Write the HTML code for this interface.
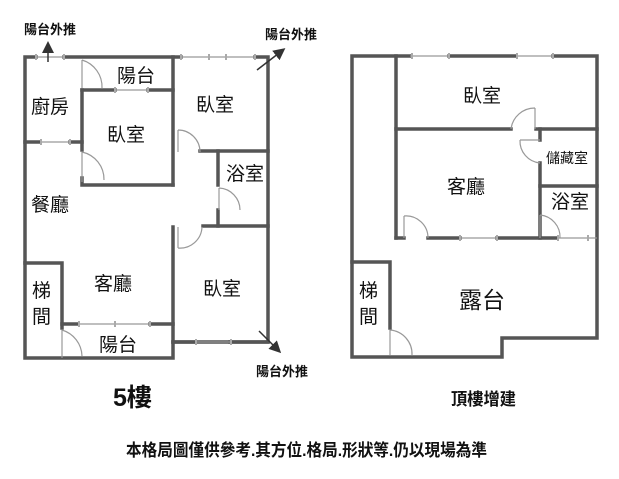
<!DOCTYPE html>
<html><head><meta charset="utf-8"><style>
html,body{margin:0;padding:0;background:#fff;}
svg{display:block;}
text{font-family:"Liberation Sans","Noto Sans CJK TC",sans-serif;fill:#111;}
</style></head><body>
<svg width="619" height="479" viewBox="0 0 619 479" xmlns="http://www.w3.org/2000/svg">
<defs>
<marker id="ah" markerWidth="8" markerHeight="8" refX="6" refY="4" orient="auto"><path d="M0,0 L8,4 L0,8 Z" fill="#333"/></marker>
</defs>
<g stroke="#555" stroke-width="3.5" fill="none" stroke-linecap="square">
<polyline points="36,57 25,57 25,358 173,358 173,342 268,342 268,57 255,57"/>
<line x1="64" y1="57" x2="181" y2="57"/>
<line x1="82" y1="90" x2="115" y2="90"/><line x1="148" y1="90" x2="173" y2="90"/>
<polyline points="82,90 82,150"/><polyline points="82,178 82,185 173,185"/>
<line x1="173" y1="57" x2="173" y2="185"/>
<line x1="25" y1="142" x2="40" y2="142"/><line x1="70" y1="142" x2="82" y2="142"/>
<line x1="200" y1="151" x2="268" y2="151"/>
<line x1="218" y1="151" x2="218" y2="185"/><line x1="218" y1="210" x2="218" y2="226"/>
<line x1="203" y1="226" x2="268" y2="226"/>
<line x1="173" y1="227" x2="173" y2="342"/>
<polyline points="25,263 62,263 62,328"/>
<line x1="62" y1="324" x2="78" y2="324"/><line x1="150" y1="324" x2="173" y2="324"/>
<line x1="173" y1="342" x2="195" y2="342"/><line x1="230" y1="342" x2="268" y2="342"/>
<polyline points="410,56 352,56 352,357 502,357 502,338 597,338 597,56 553,56"/>
<line x1="449" y1="56" x2="516" y2="56"/>
<line x1="396" y1="56" x2="396" y2="238"/>
<line x1="396" y1="129" x2="511" y2="129"/><line x1="536" y1="129" x2="597" y2="129"/>
<line x1="540" y1="129" x2="540" y2="140"/><line x1="540" y1="163" x2="540" y2="238"/>
<line x1="540" y1="186" x2="597" y2="186"/>
<line x1="396" y1="238" x2="404" y2="238"/><line x1="428" y1="238" x2="460" y2="238"/><line x1="497" y1="238" x2="557" y2="238"/>
<polyline points="352,262 390,262 390,328"/>
</g>
<g stroke="#999" stroke-width="1.2" fill="none">
<line x1="36" y1="57" x2="64" y2="57"/><line x1="181" y1="57" x2="255" y2="57"/>
<line x1="115" y1="90" x2="148" y2="90"/><line x1="40" y1="142" x2="70" y2="142"/>
<line x1="78" y1="324" x2="150" y2="324"/><line x1="195" y1="342" x2="230" y2="342"/>
<line x1="410" y1="56" x2="449" y2="56"/><line x1="516" y1="56" x2="553" y2="56"/>
<line x1="460" y1="238" x2="497" y2="238"/><line x1="557" y1="238" x2="597" y2="238"/>
<path d="M82,60 L82,88 M82,60 A28,28 0 0 1 102,88"/>
<path d="M82,152 L82,182 M82,152 A28,28 0 0 1 104,180"/>
<path d="M178,130 L178,152 M178,130 A22,22 0 0 1 200,152"/>
<path d="M219,188 L219,210 M219,188 A22,22 0 0 1 240,210"/>
<path d="M178,227 L178,248 M178,248 A22,22 0 0 0 202,227"/>
<path d="M62,330 L62,358 M62,330 A28,28 0 0 1 82,356"/>
<path d="M535,108 L535,129 M511,129 A24,24 0 0 1 535,108"/>
<path d="M540,140 L520,140 M520,140 A22,22 0 0 0 540,163"/>
<path d="M540,215 L540,238 M540,215 A22,22 0 0 1 560,238"/>
<path d="M404,216 L404,238 M404,216 A22,22 0 0 1 428,238"/>
<path d="M390,330 L390,355 M390,330 A24,24 0 0 1 412,355"/>
</g>
<g fill="#aaa">
<rect x="35" y="54" width="2" height="6"/><rect x="63" y="54" width="2" height="6"/>
<rect x="180" y="54" width="2" height="6"/><rect x="208" y="54" width="2" height="6"/><rect x="225" y="54" width="2" height="6"/><rect x="254" y="54" width="2" height="6"/>
<rect x="114" y="87" width="2" height="6"/><rect x="147" y="87" width="2" height="6"/>
<rect x="40" y="139" width="2" height="6"/><rect x="69" y="139" width="2" height="6"/>
<rect x="78" y="321" width="2" height="6"/><rect x="114" y="321" width="2" height="6"/><rect x="149" y="321" width="2" height="6"/>
<rect x="195" y="339" width="2" height="6"/><rect x="230" y="339" width="2" height="6"/>
<rect x="411" y="53" width="2" height="6"/><rect x="448" y="53" width="2" height="6"/><rect x="516" y="53" width="2" height="6"/><rect x="552" y="53" width="2" height="6"/>
<rect x="459" y="235" width="2" height="6"/><rect x="496" y="235" width="2" height="6"/><rect x="557" y="235" width="2" height="6"/><rect x="587" y="235" width="2" height="6"/>
</g>
<g stroke="#333" stroke-width="1.5" fill="none">
<line x1="48" y1="62" x2="48" y2="44" marker-end="url(#ah)"/>
<line x1="257" y1="70" x2="283" y2="50" marker-end="url(#ah)"/>
<line x1="259" y1="331" x2="279" y2="351" marker-end="url(#ah)"/>
</g>
<g font-size="13" font-weight="bold">
<text x="24" y="34">陽台外推</text>
<text x="265" y="39">陽台外推</text>
<text x="256" y="376">陽台外推</text>
</g>
<g font-size="19">
<text x="117" y="82">陽台</text>
<text x="31" y="113">廚房</text>
<text x="107" y="141">臥室</text>
<text x="196" y="111">臥室</text>
<text x="226" y="180">浴室</text>
<text x="31" y="211">餐廳</text>
<text x="94" y="290">客廳</text>
<text x="203" y="295">臥室</text>
<text x="32" y="297">梯</text>
<text x="32" y="323">間</text>
<text x="99" y="351">陽台</text>
<text x="463" y="102">臥室</text>
<text x="447" y="193">客廳</text>
<text x="359" y="297">梯</text>
<text x="359" y="323">間</text>
<text x="551" y="208">浴室</text>
<text x="459" y="308" font-size="23">露台</text>
</g>
<text x="546" y="163" font-size="14">儲藏室</text>
<text x="113" y="406" font-size="25" font-weight="bold">5樓</text>
<text x="451" y="405" font-size="17" font-weight="bold" textLength="65" lengthAdjust="spacingAndGlyphs">頂樓增建</text>
<text x="126" y="456" font-size="17" font-weight="bold" textLength="361" lengthAdjust="spacingAndGlyphs">本格局圖僅供參考.其方位.格局.形狀等.仍以現場為準</text>
</svg>
</body></html>
